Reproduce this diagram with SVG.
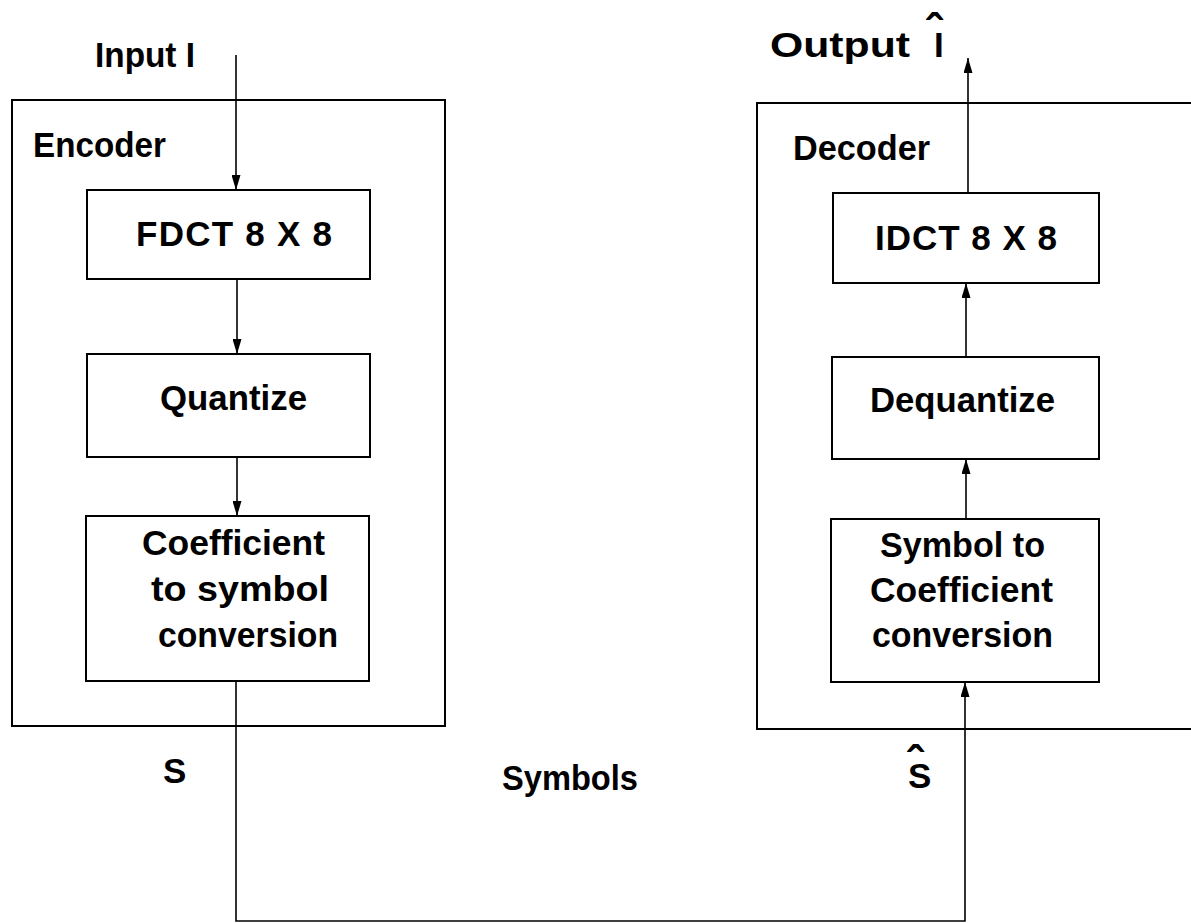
<svg xmlns="http://www.w3.org/2000/svg" width="1191" height="923" viewBox="0 0 1191 923">
  <style>
    .frame { fill: none; stroke: #000; stroke-width: 2; }
    .box { fill: #fff; stroke: #000; stroke-width: 2; }
    .wire { fill: none; stroke: #000; stroke-width: 1.6; }
    .lbl { font-family: "Liberation Sans", Arial, Helvetica, sans-serif; font-weight: bold; font-size: 35px; fill: #000; }
    .hat { font-size: 48px; }
  </style>
  <defs>
    <marker id="arrow" viewBox="0 0 15 9" refX="15" refY="4.5" markerWidth="15" markerHeight="9" markerUnits="userSpaceOnUse" orient="auto">
      <path d="M0,0 L15,4.5 L0,9 Z" fill="#000"/>
    </marker>
  </defs>
  <rect width="1191" height="923" fill="#fff"/>

  <!-- Encoder -->
  <g id="encoder">
    <rect class="frame" x="12" y="100" width="433" height="626"/>
    <text class="lbl" x="33" y="157" textLength="133" lengthAdjust="spacingAndGlyphs">Encoder</text>
  </g>
  <g id="fdct">
    <rect class="box" x="87" y="190" width="283" height="89"/>
    <text class="lbl" x="136" y="246" textLength="196" lengthAdjust="spacing">FDCT 8 X 8</text>
  </g>
  <g id="quantize">
    <rect class="box" x="87" y="354" width="283" height="103"/>
    <text class="lbl" x="160" y="410" textLength="147" lengthAdjust="spacingAndGlyphs">Quantize</text>
  </g>
  <g id="coef-to-symbol">
    <rect class="box" x="86" y="516" width="283" height="165"/>
    <text class="lbl" x="142" y="555" textLength="183" lengthAdjust="spacingAndGlyphs">Coefficient</text>
    <text class="lbl" x="151" y="601" textLength="178" lengthAdjust="spacingAndGlyphs">to symbol</text>
    <text class="lbl" x="158" y="647" textLength="180" lengthAdjust="spacingAndGlyphs">conversion</text>
  </g>

  <!-- Decoder -->
  <g id="decoder">
    <rect class="frame" x="757" y="103" width="460" height="626"/>
    <text class="lbl" x="793" y="160" textLength="137" lengthAdjust="spacingAndGlyphs">Decoder</text>
  </g>
  <g id="idct">
    <rect class="box" x="833" y="193" width="266" height="90"/>
    <text class="lbl" x="875" y="250" textLength="182" lengthAdjust="spacing">IDCT 8 X 8</text>
  </g>
  <g id="dequantize">
    <rect class="box" x="832" y="357" width="267" height="102"/>
    <text class="lbl" x="870" y="412" textLength="185" lengthAdjust="spacingAndGlyphs">Dequantize</text>
  </g>
  <g id="symbol-to-coef">
    <rect class="box" x="831" y="519" width="268" height="163"/>
    <text class="lbl" x="880" y="557" textLength="165" lengthAdjust="spacingAndGlyphs">Symbol to</text>
    <text class="lbl" x="870" y="602" textLength="183" lengthAdjust="spacingAndGlyphs">Coefficient</text>
    <text class="lbl" x="872" y="647" textLength="181" lengthAdjust="spacingAndGlyphs">conversion</text>
  </g>

  <!-- Signal labels -->
  <g id="labels">
    <text class="lbl" x="95" y="67" textLength="100" lengthAdjust="spacingAndGlyphs">Input I</text>
    <text class="lbl" x="770" y="57"><tspan textLength="140" lengthAdjust="spacingAndGlyphs">Output</tspan><tspan x="934">I</tspan><tspan class="hat" x="926" y="48">ˆ</tspan></text>
    <text class="lbl" x="163" y="783">S</text>
    <text class="lbl" x="908" y="788">S<tspan class="hat" x="907" y="780">ˆ</tspan></text>
    <text class="lbl" x="502" y="790" textLength="136" lengthAdjust="spacingAndGlyphs">Symbols</text>
  </g>

  <!-- Connectors -->
  <g id="connectors">
    <line class="wire" x1="236" y1="55" x2="236" y2="190" marker-end="url(#arrow)"/>
    <line class="wire" x1="237" y1="279" x2="237" y2="354" marker-end="url(#arrow)"/>
    <line class="wire" x1="237" y1="457" x2="237" y2="516" marker-end="url(#arrow)"/>
    <path class="wire" d="M236,681 V921 H965 V682" marker-end="url(#arrow)"/>
    <line class="wire" x1="966" y1="519" x2="966" y2="459" marker-end="url(#arrow)"/>
    <line class="wire" x1="966" y1="357" x2="966" y2="283" marker-end="url(#arrow)"/>
    <line class="wire" x1="968" y1="193" x2="968" y2="58" marker-end="url(#arrow)"/>
  </g>
</svg>
